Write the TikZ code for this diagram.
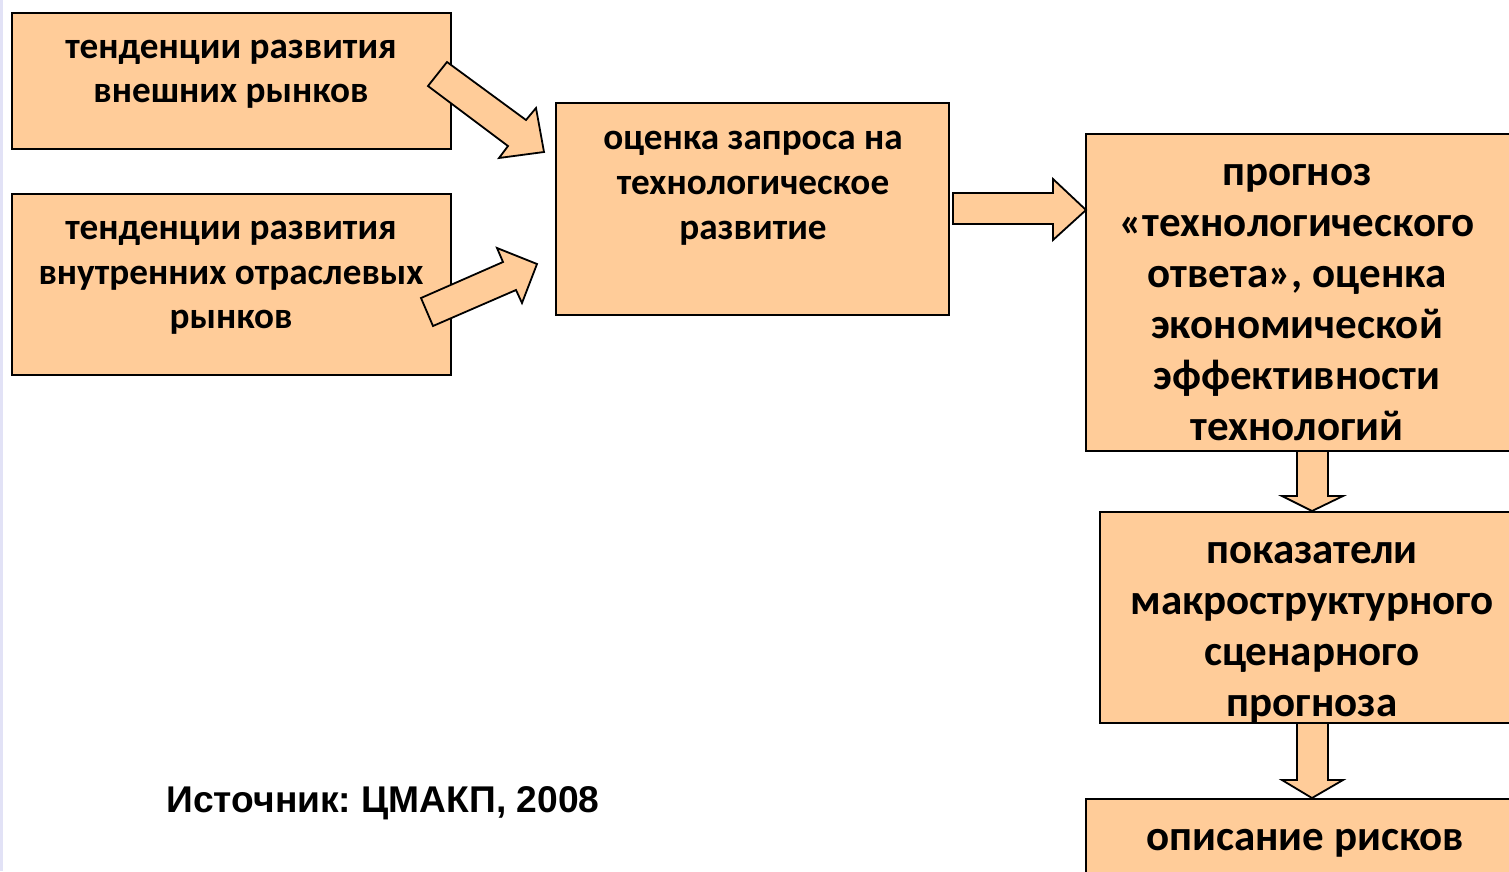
\documentclass[tikz,border=0pt]{standalone}
\usepackage{fontspec}
\setmainfont{Carlito}
\newfontfamily\srcfont{Liberation Sans}
\definecolor{peach}{HTML}{FFCC99}
\definecolor{edgeblue}{HTML}{E2E2F6}
\frenchspacing
\begin{document}
\begin{tikzpicture}[x=1pt,y=-1pt,
  box/.style={draw=black, line width=1.8pt, fill=peach, inner sep=0pt},
  blk/.style={draw=black, line width=1.8pt, fill=peach, line join=miter},
  txt/.style 2 args={align=center, inner sep=0pt, font=\bfseries\fontsize{#1}{#2}\selectfont}]
\useasboundingbox (0,0) rectangle (1509,871);
\clip (0,0) rectangle (1509,871);
\fill[edgeblue] (0,0) rectangle (2.5,871);

% boxes
\draw[box] (12,13) rectangle (451,149);
\draw[box] (12,194) rectangle (451,375);
\draw[box] (556,103) rectangle (949,315);
\draw[box] (1086,134) rectangle (1530,451);
\draw[box] (1100,512) rectangle (1530,723);
\draw[box] (1086,799) rectangle (1530,900);

% texts
\node[txt={37.2}{44}] (a) at (231,74) {тенденции развития\\внешних рынков};
\node[txt={37.2}{44.5}] (b) at (231,278) {тенденции развития\\внутренних отраслевых\\рынков};
\node[txt={37.2}{45}] (c) at (753,188) {оценка запроса на\\технологическое\\развитие};
\node[txt={43}{51}] (d) at (1297,303) {прогноз\\«технологического\\ответа», оценка\\экономической\\эффективности\\технологий};
\node[txt={43}{51}] (e) at (1312,633) {показатели\\макроструктурного\\сценарного\\прогноза};
\node[txt={43}{51}] (f) at (1305,843) {описание рисков};
\node[font=\srcfont\bfseries\fontsize{37.2}{44}\selectfont, inner sep=0pt] (src) at (383,803) {Источник: ЦМАКП, 2008};

% block arrows
\draw[blk] (447,62) -- (526,120) -- (536,108) -- (544,152) -- (499,158) -- (508,146) -- (428,86) -- cycle;
\draw[blk] (421,298) -- (503,262) -- (497,248) -- (537,264) -- (522,303) -- (516,290) -- (433,326) -- cycle;
\draw[blk] (953,193) -- (1053,193) -- (1053,179) -- (1086,210) -- (1053,240) -- (1053,224) -- (953,224) -- cycle;
\draw[blk] (1297,451) -- (1328,451) -- (1328,496) -- (1343,496) -- (1312,511) -- (1282,496) -- (1297,496) -- cycle;
\draw[blk] (1297,723) -- (1328,723) -- (1328,780) -- (1343,780) -- (1312,798) -- (1282,780) -- (1297,780) -- cycle;
\end{tikzpicture}
\end{document}
